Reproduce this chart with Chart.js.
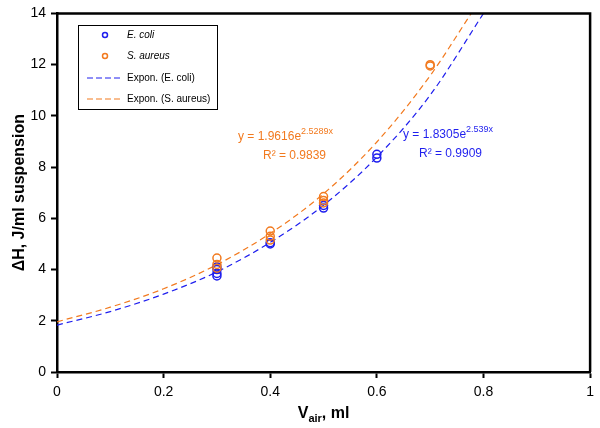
<!DOCTYPE html>
<html>
<head>
<meta charset="utf-8">
<script src="https://cdn.jsdelivr.net/npm/chart.js@4.4.1/dist/chart.umd.min.js"></script>
<style>
  html, body { margin: 0; padding: 0; background: #ffffff; }
  #wrap { width: 600px; height: 428px; }
</style>
</head>
<body>
<div id="wrap"><canvas id="heatChart" width="600" height="428"></canvas></div>
<script>
const ecoliX = [0.3, 0.3, 0.3, 0.3, 0.4, 0.4, 0.5, 0.5, 0.6, 0.6];
const ecoliY = [3.75, 3.85, 4.0, 4.1, 5.0, 5.05, 6.4, 6.5, 8.35, 8.5];
const aureusX = [0.3, 0.3, 0.3, 0.4, 0.4, 0.4, 0.5, 0.5, 0.5, 0.7, 0.7];
const aureusY = [4.45, 4.2, 4.05, 5.5, 5.3, 5.15, 6.85, 6.7, 6.6, 12.0, 11.95];

// trend curves (Excel exponential fits)
const ecoliTrendX = [0, 0.1, 0.2, 0.3, 0.4, 0.5, 0.6, 0.7, 0.8];
const ecoliTrendY = [1.83, 2.36, 3.04, 3.91, 5.06, 6.51, 8.39, 10.81, 14.0];
const aureusTrendX = [0, 0.1, 0.2, 0.3, 0.4, 0.5, 0.6, 0.7, 0.777];
const aureusTrendY = [1.96, 2.53, 3.25, 4.19, 5.41, 6.96, 8.98, 11.57, 14.0];

const xTicks = [0, 0.2, 0.4, 0.6, 0.8, 1];
const yTicks = [0, 2, 4, 6, 8, 10, 12, 14];

const BLUE = "#1f1fee";
const ORANGE = "#f27a1f";
const FONT = "'Liberation Sans', Arial, Helvetica, sans-serif";

const pts = (xs, ys) => xs.map((x, i) => ({ x: x, y: ys[i] }));

// frame, legend box, fit equations and the x title with subscript
const decorPlugin = {
  id: "decor",
  afterDraw(chart) {
    const ctx = chart.ctx;
    const a = chart.chartArea;
    ctx.save();

    // top + right frame
    ctx.strokeStyle = "#000";
    ctx.lineWidth = 2.5;
    ctx.beginPath();
    ctx.moveTo(a.left, a.top);
    ctx.lineTo(a.right, a.top);
    ctx.lineTo(a.right, a.bottom);
    ctx.stroke();

    // legend
    ctx.lineWidth = 1;
    ctx.strokeRect(78.5, 25.5, 139, 84);
    ctx.font = "italic 10px " + FONT;
    ctx.textBaseline = "middle";
    ctx.fillStyle = "#000";
    ctx.lineWidth = 1.5;
    ctx.strokeStyle = BLUE;
    ctx.beginPath(); ctx.arc(105, 35, 2.5, 0, Math.PI * 2); ctx.stroke();
    ctx.fillText("E. coli", 127, 35);
    ctx.strokeStyle = ORANGE;
    ctx.beginPath(); ctx.arc(105, 56, 2.5, 0, Math.PI * 2); ctx.stroke();
    ctx.fillText("S. aureus", 127, 56);
    ctx.font = "10px " + FONT;
    ctx.lineWidth = 1;
    ctx.setLineDash([6, 3]);
    ctx.strokeStyle = BLUE;
    ctx.beginPath(); ctx.moveTo(87, 78); ctx.lineTo(122, 78); ctx.stroke();
    ctx.strokeStyle = ORANGE;
    ctx.beginPath(); ctx.moveTo(87, 99); ctx.lineTo(122, 99); ctx.stroke();
    ctx.setLineDash([]);
    ctx.fillText("Expon. (E. coli)", 127, 78);
    ctx.fillText("Expon. (S. aureus)", 127, 99);

    // fit equations
    const eq = (x, y, base, sup, color) => {
      ctx.fillStyle = color;
      ctx.font = "12px " + FONT;
      ctx.textAlign = "left";
      ctx.fillText(base, x, y);
      const w = ctx.measureText(base).width;
      ctx.font = "9px " + FONT;
      ctx.fillText(sup, x + w, y - 5);
    };
    eq(238, 137, "y = 1.9616e", "2.5289x", ORANGE);
    ctx.font = "12px " + FONT;
    ctx.fillText("R\u00b2 = 0.9839", 263, 156);
    eq(403, 135, "y = 1.8305e", "2.539x", BLUE);
    ctx.font = "12px " + FONT;
    ctx.fillText("R\u00b2 = 0.9909", 419, 154);

    // x axis title with subscript
    ctx.fillStyle = "#000";
    const t1 = "V", t2 = "air", t3 = ", ml";
    ctx.font = "bold 16px " + FONT;
    const w1 = ctx.measureText(t1).width;
    const w3 = ctx.measureText(t3).width;
    ctx.font = "bold 11px " + FONT;
    const w2 = ctx.measureText(t2).width;
    const x0 = (a.left + a.right) / 2 - (w1 + w2 + w3) / 2;
    ctx.textAlign = "left";
    ctx.font = "bold 16px " + FONT;
    ctx.fillText(t1, x0, 414);
    ctx.font = "bold 11px " + FONT;
    ctx.fillText(t2, x0 + w1, 419);
    ctx.font = "bold 16px " + FONT;
    ctx.fillText(t3, x0 + w1 + w2, 414);

    ctx.restore();
  }
};

new Chart(document.getElementById("heatChart").getContext("2d"), {
  type: "scatter",
  data: {
    datasets: [
      {
        label: "E. coli",
        data: pts(ecoliX, ecoliY),
        borderColor: BLUE,
        backgroundColor: "rgba(0,0,0,0)",
        pointRadius: 4,
        pointBorderWidth: 1.5,
        order: 1
      },
      {
        label: "S. aureus",
        data: pts(aureusX, aureusY),
        borderColor: ORANGE,
        backgroundColor: "rgba(0,0,0,0)",
        pointRadius: 4,
        pointBorderWidth: 1.5,
        order: 0
      },
      {
        label: "Expon. (E. coli)",
        data: pts(ecoliTrendX, ecoliTrendY),
        showLine: true,
        borderColor: BLUE,
        borderWidth: 1.2,
        borderDash: [6, 4],
        pointRadius: 0,
        cubicInterpolationMode: "monotone",
        order: 2
      },
      {
        label: "Expon. (S. aureus)",
        data: pts(aureusTrendX, aureusTrendY),
        showLine: true,
        borderColor: ORANGE,
        borderWidth: 1.2,
        borderDash: [6, 4],
        pointRadius: 0,
        cubicInterpolationMode: "monotone",
        order: 3
      }
    ]
  },
  options: {
    responsive: false,
    animation: false,
    layout: { padding: { top: 10, right: 9, left: 0, bottom: 0 } },
    plugins: {
      legend: { display: false },
      tooltip: { enabled: false }
    },
    scales: {
      x: {
        type: "linear",
        min: 0,
        max: 1,
        afterFit: s => { s.height = 56; },
        afterBuildTicks: s => { s.ticks = xTicks.map(v => ({ value: v })); },
        border: { color: "#000", width: 2.5 },
        grid: { drawOnChartArea: false, drawTicks: true, tickLength: 6, tickWidth: 2, tickColor: "#000" },
        ticks: {
          color: "#000", padding: 6, maxRotation: 0,
          font: { family: FONT, size: 14 },
          callback: v => String(v)
        }
      },
      y: {
        min: 0,
        max: 14,
        afterFit: s => { s.width = 57; },
        afterBuildTicks: s => { s.ticks = yTicks.map(v => ({ value: v })); },
        border: { color: "#000", width: 2.5 },
        grid: { drawOnChartArea: false, drawTicks: true, tickLength: 6, tickWidth: 2, tickColor: "#000" },
        ticks: { color: "#000", padding: 5, font: { family: FONT, size: 14 } },
        title: {
          display: true,
          text: "\u0394H, J/ml suspension",
          color: "#000",
          font: { family: FONT, size: 16, weight: "bold" },
          padding: { top: 10, bottom: 0 }
        }
      }
    }
  },
  plugins: [decorPlugin]
});
</script>
</body>
</html>
